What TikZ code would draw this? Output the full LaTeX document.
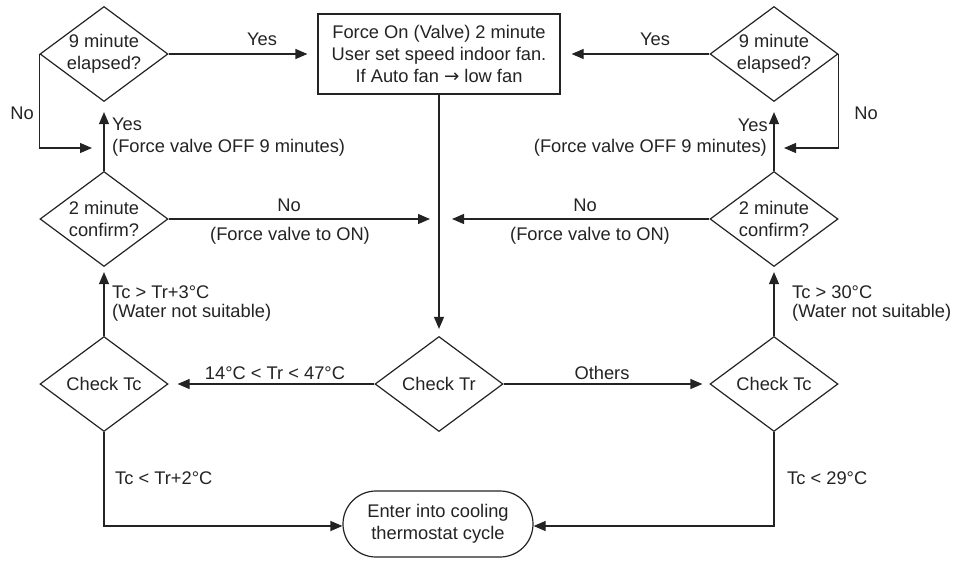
\documentclass[tikz,border=0pt]{standalone}
\usepackage{fontspec}
\setmainfont{Liberation Sans}
\newfontfamily\arrowfont{DejaVu Sans}
\usetikzlibrary{shapes.geometric,arrows.meta}
\definecolor{ink}{RGB}{35,35,35}
\begin{document}
\begin{tikzpicture}[x=1pt,y=1pt,
  every node/.style={font=\fontsize{18.3}{22}\selectfont, text=ink},
  dia/.style={draw=ink, line width=1.2pt, diamond, aspect=1.35, inner sep=0pt, minimum width=128pt, minimum height=95pt, align=center},
  procbox/.style={draw=ink, line width=1.2pt, rectangle, minimum width=242pt, minimum height=80pt, align=center, inner sep=0pt},
  termbox/.style={draw=ink, line width=1.2pt, rectangle, rounded corners=33pt, minimum width=190pt, minimum height=66pt, align=center, inner sep=0pt},
  arr/.style={draw=ink, line width=1.2pt, -{Triangle[length=12pt,width=10pt]}},
  lbl/.style={inner sep=0pt}
]
\useasboundingbox (0,0) rectangle (958,-560);

% nodes
\node[procbox] (box) at (439,-54) {Force On (Valve) 2 minute\\User set speed indoor fan.\\If Auto fan {\arrowfont →} low fan};
\node[dia] (d9L) at (104,-54) {9 minute\\elapsed?};
\node[dia] (d9R) at (774,-54) {9 minute\\elapsed?};
\node[dia] (d2L) at (104,-219) {2 minute\\confirm?};
\node[dia] (d2R) at (774,-219) {2 minute\\confirm?};
\node[dia] (tcL) at (104,-384) {Check Tc};
\node[dia] (tr) at (439,-384) {Check Tr};
\node[dia] (tcR) at (774,-384) {Check Tc};
\node[termbox] (term) at (438,-524) {Enter into cooling\\thermostat cycle};

\coordinate (noL) at (92,-148);
\coordinate (noR) at (784,-148);
\coordinate (jL) at (430,-219);
\coordinate (jR) at (452,-219);

% connectors
\draw[arr, shorten >=10pt] (d9L.east) -- (box.west);
\draw[arr, shorten >=11pt] (d9R.west) -- (box.east);
\draw[arr] (d9L.west) |- (noL);
\draw[arr] (d9R.east) |- (noR);
\draw[arr, shorten >=10pt] (d2L.north) -- (d9L.south);
\draw[arr, shorten >=10pt] (d2R.north) -- (d9R.south);
\draw[arr] (d2L.east) -- (jL);
\draw[arr] (d2R.west) -- (jR);
\draw[arr, shorten >=7pt] (box.south) -- (tr.north);
\draw[arr, shorten >=5pt] (tcL.north) -- (d2L.south);
\draw[arr, shorten >=5pt] (tcR.north) -- (d2R.south);
\draw[arr, shorten >=9pt] (tr.west) -- (tcL.east);
\draw[arr, shorten >=7pt] (tr.east) -- (tcR.west);
\draw[arr] (tcL.south) |- ([yshift=-2pt]term.west);
\draw[arr] (tcR.south) |- ([yshift=-2pt]term.east);

% labels
\node[lbl] at (262,-39) {Yes};
\node[lbl] at (655,-39) {Yes};
\node[lbl] at (22,-113) {No};
\node[lbl] at (866,-113) {No};
\node[lbl, anchor=west] at (112,-124) {Yes};
\node[lbl, anchor=west] at (112,-148) {(Force valve OFF 9 minutes)};
\node[lbl, anchor=east] at (768,-125) {Yes};
\node[lbl, anchor=east] at (767,-148) {(Force valve OFF 9 minutes)};
\node[lbl] at (289,-205) {No};
\node[lbl] at (290,-236) {(Force valve to ON)};
\node[lbl] at (585,-205) {No};
\node[lbl] at (590,-236) {(Force valve to ON)};
\node[lbl, anchor=west] at (112,-292) {Tc > Tr+3°C};
\node[lbl, anchor=west] at (112,-313) {(Water not suitable)};
\node[lbl, anchor=west] at (792,-292) {Tc > 30°C};
\node[lbl, anchor=west] at (792,-313) {(Water not suitable)};
\node[lbl] at (275,-373) {14°C < Tr < 47°C};
\node[lbl] at (602,-373) {Others};
\node[lbl, anchor=west] at (115,-478) {Tc < Tr+2°C};
\node[lbl, anchor=west] at (787,-478) {Tc < 29°C};
\end{tikzpicture}
\end{document}
